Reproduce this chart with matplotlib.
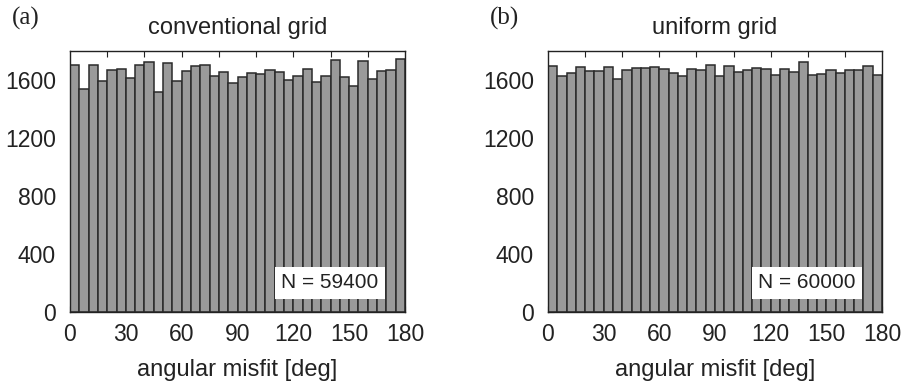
import numpy as np
import matplotlib
matplotlib.use("Agg")
import matplotlib.pyplot as plt

bin_edges = np.arange(0, 181, 5)

counts_conventional = [1703, 1541, 1703, 1596, 1666, 1675, 1617, 1703, 1724, 1520,
                       1719, 1596, 1661, 1698, 1703, 1629, 1652, 1578, 1620, 1645,
                       1638, 1670, 1652, 1601, 1629, 1673, 1585, 1629, 1737, 1624,
                       1557, 1733, 1606, 1661, 1670, 1742]
counts_uniform = [1694, 1626, 1647, 1689, 1659, 1661, 1689, 1610, 1666, 1680,
                  1684, 1691, 1675, 1647, 1631, 1677, 1670, 1703, 1631, 1700,
                  1652, 1668, 1682, 1677, 1633, 1673, 1652, 1726, 1633, 1640,
                  1668, 1645, 1670, 1666, 1696, 1633]

titles = ["conventional grid", "uniform grid"]
panel_labels = ["(a)", "(b)"]
n_labels = ["N = 59400", "N = 60000"]
xticks = [0, 30, 60, 90, 120, 150, 180]
yticks = [0, 400, 800, 1200, 1600]
top_ticks = list(range(20, 180, 20))

W, H = 901, 390
fig = plt.figure(figsize=(W / 100, H / 100), dpi=100)

sans = ["Liberation Sans", "DejaVu Sans"]
serif = ["Liberation Serif", "DejaVu Serif"]
txt = "#222222"

axes_px = [(70, 405), (548, 882)]
top_px, bot_px = 51, 312

for i, counts in enumerate([counts_conventional, counts_uniform]):
    x0, x1 = axes_px[i]
    ax = fig.add_axes([x0 / W, 1 - bot_px / H, (x1 - x0) / W, (bot_px - top_px) / H])
    ax.bar(bin_edges[:-1], counts, width=np.diff(bin_edges), align="edge",
           color="#9a9a9a", edgecolor="#2a2a2a", linewidth=1.1, zorder=2)
    ax.set_xlim(0, 180)
    ax.set_ylim(0, 1800)
    ax.set_xticks(xticks)
    ax.set_yticks(yticks)
    ax.tick_params(axis="both", direction="in", length=4, labelsize=16.5,
                   colors=txt)
    ax.tick_params(axis="x", pad=8)
    ax.tick_params(axis="y", pad=10)
    for lab in ax.get_xticklabels() + ax.get_yticklabels():
        lab.set_family(sans)
    sec = ax.secondary_xaxis("top")
    sec.set_xticks(top_ticks)
    sec.tick_params(direction="in", length=4, labelsize=0, labeltop=False, color=txt)
    sec.spines["top"].set_visible(False)
    for s in ax.spines.values():
        s.set_color(txt)
        s.set_linewidth(1.0)
    ax.set_xlabel("angular misfit [deg]", fontsize=17, family=sans, labelpad=9,
                  color=txt)
    ax.set_title(titles[i], fontsize=17, family=sans, pad=12, color=txt)
    ax.text(139.7, 200, n_labels[i], fontsize=15, family=sans, ha="center",
            va="center", color=txt, zorder=5,
            bbox=dict(boxstyle="square,pad=0.3", facecolor="white", edgecolor="none"))
    fig.text((x0 - 58) / W, 1 - 18 / H, panel_labels[i], fontsize=18, family=serif,
             ha="left", va="center", color=txt)

fig.savefig("out.png", dpi=100)
